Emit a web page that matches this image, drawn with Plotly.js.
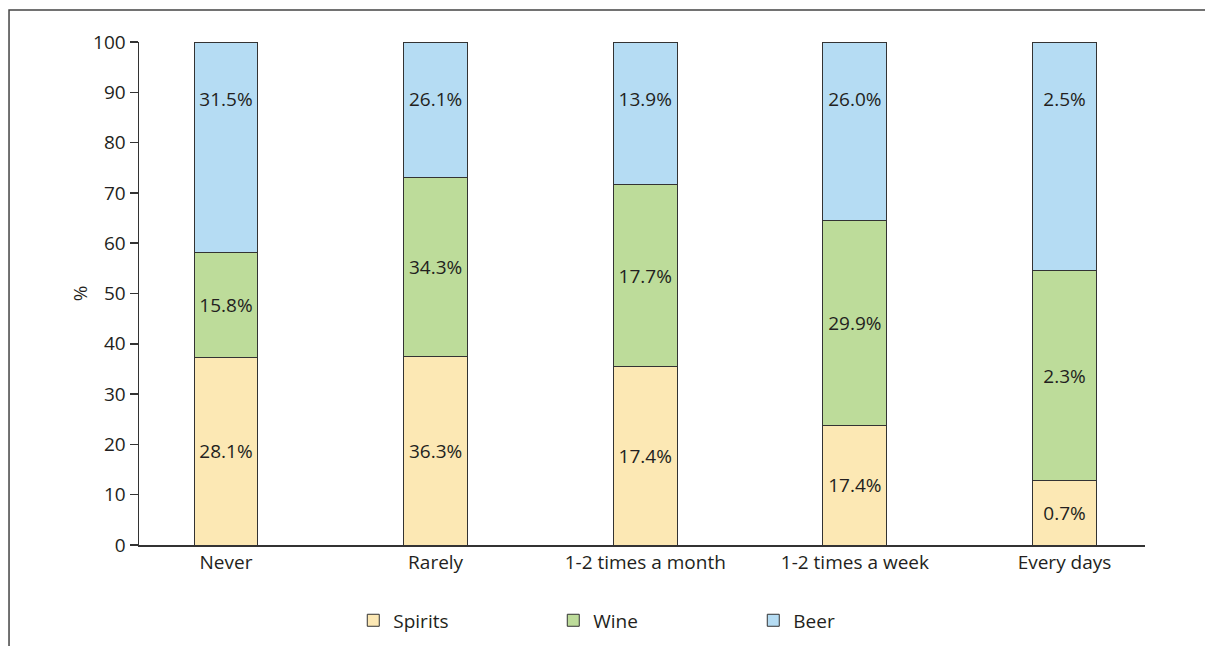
<!DOCTYPE html>
<html>
<head>
<meta charset="utf-8">
<script src="https://cdn.plot.ly/plotly-3.0.1.min.js"></script>
<style>
  html, body { margin: 0; padding: 0; background: #fff; }
  #chart { width: 1205px; height: 646px; }
</style>
</head>
<body>
<div id="chart"></div>
<script>
const categories = ["Never", "Rarely", "1-2 times a month", "1-2 times a week", "Every days"];
const spirits = [28.1, 36.3, 17.4, 17.4, 0.7];
const wine = [15.8, 34.3, 17.7, 29.9, 2.3];
const beer = [31.5, 26.1, 13.9, 26.0, 2.5];
const yTicks = [0, 10, 20, 30, 40, 50, 60, 70, 80, 90, 100];

const FONT = "Open Sans, Lato, sans-serif";
const TXT = "#231f20";
const FS = 19;
const fmt = v => v.toFixed(1) + "%";

function barTrace(name, vals, color, template) {
  return {
    type: "bar",
    name: name,
    x: categories,
    y: vals,
    text: vals.map(fmt),
    texttemplate: template,
    textposition: "inside",
    insidetextanchor: template === "%{text}" ? "middle" : "end",
    textangle: 0,
    textfont: { family: FONT, size: FS, color: TXT },
    marker: { color: color, line: { color: "#333333", width: 1 } },
    hoverinfo: "x+name+text"
  };
}

const data = [
  barTrace("Spirits", spirits, "#fce8b4", "%{text}"),
  barTrace("Wine", wine, "#bddc9a", "%{text}"),
  barTrace("Beer", beer, "#b5dcf3", "<span style=\"font-size:11px\">\u00a0</span><br>\u00a0<br>%{text}")
];

const layout = {
  width: 1205,
  height: 646,
  margin: { l: 139, r: 60, t: 42, b: 101, pad: 0, autoexpand: false },
  paper_bgcolor: "#ffffff",
  plot_bgcolor: "#ffffff",
  barmode: "stack",
  barnorm: "percent",
  bargap: 0.695,
  font: { family: FONT, size: FS, color: TXT },
  showlegend: true,
  legend: {
    orientation: "h",
    x: 0.213, xanchor: "left",
    yref: "container",
    y: 0.069, yanchor: "top",
    entrywidth: 155, entrywidthmode: "pixels",
    font: { family: FONT, size: FS, color: TXT },
    traceorder: "normal"
  },
  xaxis: {
    type: "category",
    range: [-0.415, 4.384],
    showgrid: false,
    zeroline: false,
    showline: true,
    linecolor: "#333333",
    linewidth: 1.5,
    ticks: "",
    tickfont: { family: FONT, size: FS, color: TXT },
    fixedrange: true
  },
  yaxis: {
    range: [0, 100],
    tickvals: yTicks,
    ticktext: yTicks.map(String),
    showgrid: false,
    zeroline: false,
    showline: true,
    linecolor: "#333333",
    linewidth: 1.5,
    ticks: "outside",
    ticklen: 8,
    tickwidth: 1.5,
    tickcolor: "#333333",
    tickfont: { family: FONT, size: FS, color: TXT },
    title: { text: "%", font: { family: FONT, size: FS, color: TXT }, standoff: 0 },
    fixedrange: true
  },
  shapes: [
    {
      type: "path",
      xref: "paper", yref: "paper",
      path: "M -0.1292,-0.25 L -0.1292,1.0636 L 1.1,1.0636",
      line: { color: "#444444", width: 1.5 }
    }
  ]
};

Plotly.newPlot("chart", data, layout, { displayModeBar: false, staticPlot: true });
</script>
</body>
</html>
